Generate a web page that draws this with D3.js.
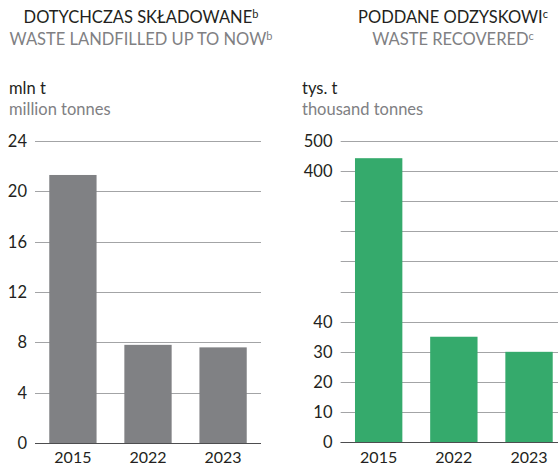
<!DOCTYPE html>
<html>
<head>
<meta charset="utf-8">
<script src="https://cdn.jsdelivr.net/npm/d3@7"></script>
<style>
  html, body { margin: 0; padding: 0; background: #fff; }
  svg { display: block; font-family: Lato, "Open Sans", sans-serif; }
</style>
</head>
<body>
<svg id="chart" width="558" height="466"></svg>
<script>
// Waste landfilled up to now (million tonnes)
const years = ["2015", "2022", "2023"];
const landfilled = [21.3, 7.8, 7.6];
const landfilledTicks = [0, 4, 8, 12, 16, 20, 24];

// Waste recovered (thousand tonnes), drawn on a broken axis
const recovered = [442, 35, 30];
const recoveredTickLabels = ["0", "10", "20", "30", "40", "", "", "", "", "400", "500"];
// value -> grid row index for the broken axis
const recoveredBreakValues = [0, 40, 400, 500];
const recoveredBreakRows = [0, 4, 9, 10];

const svg = d3.select("#chart");
const dark = "#231f20", grey = "#808083";
const gridColor = "#a3a4a6", zeroColor = "#4d4d4f";

function titles(cx, main, sub, sup, unitMain, unitSub, ux) {
  const t1 = svg.append("text").attr("x", cx).attr("y", 23)
    .attr("text-anchor", "middle").attr("fill", dark).attr("font-size", 16.5);
  t1.append("tspan").text(main);
  t1.append("tspan").attr("font-size", 11).attr("dy", -5).text(sup);
  const t2 = svg.append("text").attr("x", cx).attr("y", 45)
    .attr("text-anchor", "middle").attr("fill", grey).attr("font-size", 16.5);
  t2.append("tspan").text(sub);
  t2.append("tspan").attr("font-size", 11).attr("dy", -5).text(sup);
  svg.append("text").attr("x", ux).attr("y", 94).attr("fill", dark)
    .attr("font-size", 16.5).text(unitMain);
  svg.append("text").attr("x", ux).attr("y", 115).attr("fill", grey)
    .attr("font-size", 16.5).text(unitSub);
}

function panel(opts) {
  const g = svg.append("g");
  const x = d3.scaleBand().domain(years).range(opts.xRange)
    .paddingInner(0.37).paddingOuter(0.19);
  // gridlines
  g.selectAll("line.grid").data(opts.gridYs).join("line")
    .attr("x1", opts.xRange[0]).attr("x2", opts.xRange[1])
    .attr("y1", d => Math.round(d) + 0.5).attr("y2", d => Math.round(d) + 0.5)
    .attr("stroke", (d, i) => i === 0 ? zeroColor : gridColor)
    .attr("stroke-width", 1);
  // tick labels
  g.selectAll("text.tick").data(opts.gridYs).join("text")
    .attr("x", opts.labelX).attr("y", d => d + 6)
    .attr("text-anchor", "end").attr("fill", dark).attr("font-size", 16.5)
    .text((d, i) => opts.labels[i]);
  // bars
  g.selectAll("rect.bar").data(opts.values).join("rect")
    .attr("x", (d, i) => x(years[i])).attr("width", x.bandwidth())
    .attr("y", d => opts.y(d)).attr("height", d => opts.y(0) - opts.y(d))
    .attr("fill", opts.color);
  // baseline redrawn over bars
  g.append("line").attr("x1", opts.xRange[0]).attr("x2", opts.xRange[1])
    .attr("y1", Math.round(opts.y(0)) + 0.5).attr("y2", Math.round(opts.y(0)) + 0.5)
    .attr("stroke", zeroColor).attr("stroke-width", 1);
  // category labels
  g.selectAll("text.cat").data(years).join("text")
    .attr("x", d => x(d) + x.bandwidth() / 2).attr("y", 463)
    .attr("text-anchor", "middle").attr("fill", dark).attr("font-size", 16)
    .text(d => d);
}

// Left panel
const yLeft = d3.scaleLinear().domain([0, 24]).range([443, 141]);
titles(141, "DOTYCHCZAS SKŁADOWANE", "WASTE LANDFILLED UP TO NOW", "b",
  "mln t", "million tonnes", 9);
panel({
  xRange: [35, 261],
  y: yLeft,
  gridYs: landfilledTicks.map(yLeft),
  labels: landfilledTicks.map(String),
  labelX: 27,
  values: landfilled,
  color: "#808184"
});

// Right panel (broken axis)
const rowY = d3.scaleLinear().domain([0, 10]).range([442.3, 140.7]);
const yRight = d3.scaleLinear().domain(recoveredBreakValues)
  .range(recoveredBreakRows.map(rowY));
titles(453, "PODDANE ODZYSKOWI", "WASTE RECOVERED", "c",
  "tys. t", "thousand tonnes", 302);
panel({
  xRange: [340.7, 567],
  y: yRight,
  gridYs: d3.range(recoveredTickLabels.length).map(rowY),
  labels: recoveredTickLabels,
  labelX: 332.5,
  values: recovered,
  color: "#35aa6c"
});
</script>
</body>
</html>
